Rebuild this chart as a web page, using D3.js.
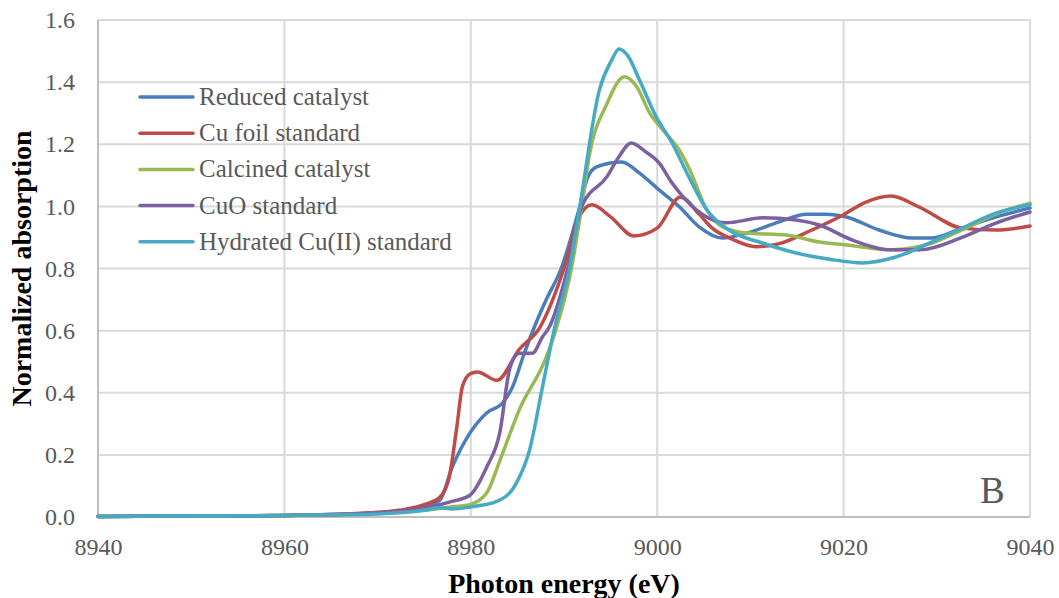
<!DOCTYPE html>
<html>
<head>
<meta charset="utf-8">
<script src="https://cdn.jsdelivr.net/npm/d3@7"></script>
<style>
  html, body { margin: 0; padding: 0; background: #fff; }
  svg { display: block; }
</style>
</head>
<body>
<svg id="chart" width="1059" height="598"></svg>
<script>
// ---- data ----
const seriesNames = ["Reduced catalyst", "Cu foil standard", "Calcined catalyst", "CuO standard", "Hydrated Cu(II) standard"];
const seriesColors = ["#4A7EBB", "#BE4B48", "#98B954", "#7D60A0", "#46AAC5"];

const xTicks = [8940, 8960, 8980, 9000, 9020, 9040];
const yTicks = [0, 0.2, 0.4, 0.6, 0.8, 1.0, 1.2, 1.4, 1.6];

const reducedE = [8940, 8950, 8960, 8965, 8970, 8973, 8975, 8976.7, 8978.0, 8979.9, 8981.7, 8983.4, 8984.5, 8985.6, 8986.8, 8988.1, 8989.7, 8991.7, 8992.5, 8993.5, 8996.2, 8998.1, 9000.2, 9002.4, 9004.5, 9007.0, 9009.6, 9013.1, 9016.0, 9018.1, 9020.3, 9023.8, 9027.4, 9029.5, 9032.7, 9036.4, 9040];
const reducedA = [0.002, 0.003, 0.005, 0.008, 0.014, 0.02, 0.03, 0.055, 0.16, 0.27, 0.335, 0.367, 0.42, 0.515, 0.61, 0.70, 0.80, 1.0, 1.09, 1.127, 1.143, 1.107, 1.053, 0.998, 0.934, 0.898, 0.914, 0.95, 0.975, 0.975, 0.966, 0.924, 0.898, 0.898, 0.93, 0.966, 0.995];

const cuFoilE = [8940, 8950, 8960, 8965, 8970, 8973, 8975, 8976.7, 8977.7, 8978.5, 8979.1, 8979.9, 8980.7, 8982.8, 8985.2, 8987.4, 8990.0, 8991.7, 8993.0, 8995.0, 8997.5, 9000.0, 9002.5, 9004.5, 9005.9, 9008.0, 9010.6, 9013.1, 9016.6, 9019.8, 9022.4, 9025.1, 9028.1, 9032.7, 9036.4, 9040];
const cuFoilA = [0.002, 0.003, 0.005, 0.008, 0.015, 0.025, 0.04, 0.064, 0.13, 0.29, 0.42, 0.46, 0.467, 0.44, 0.54, 0.61, 0.80, 0.97, 1.005, 0.966, 0.905, 0.93, 1.03, 0.975, 0.93, 0.895, 0.87, 0.88, 0.924, 0.97, 1.014, 1.033, 0.998, 0.93, 0.924, 0.937];

const calcinedE = [8940, 8950, 8960, 8965, 8970, 8975, 8978, 8979.9, 8981.7, 8983.1, 8985.2, 8988.1, 8989.2, 8990.8, 8991.9, 8992.7, 8994.6, 8996.5, 8997.8, 8999.2, 9000.6, 9002.4, 9003.5, 9005.3, 9007.0, 9009.6, 9013.8, 9017.4, 9020.3, 9025.2, 9029.5, 9032.7, 9036.7, 9040];
const calcinedA = [0.002, 0.003, 0.005, 0.007, 0.012, 0.022, 0.033, 0.04, 0.077, 0.18, 0.345, 0.515, 0.61, 0.80, 1.0, 1.16, 1.33, 1.417, 1.385, 1.30, 1.246, 1.18, 1.117, 0.99, 0.934, 0.914, 0.908, 0.885, 0.876, 0.86, 0.882, 0.924, 0.98, 1.01];

const cuoE = [8940, 8950, 8960, 8965, 8970, 8975, 8977.7, 8979.9, 8981.7, 8983.1, 8984.2, 8985.2, 8986.6, 8987.7, 8988.4, 8990.4, 8991.9, 8994.6, 8995.9, 8997.2, 8998.8, 9000.2, 9001.6, 9003.1, 9005.3, 9007.4, 9011.3, 9014.9, 9017.4, 9020.9, 9025.2, 9028.1, 9032.7, 9036.4, 9040];
const cuoA = [0.002, 0.003, 0.005, 0.008, 0.013, 0.028, 0.048, 0.07, 0.16, 0.27, 0.48, 0.527, 0.527, 0.58, 0.61, 0.80, 1.0, 1.095, 1.16, 1.204, 1.175, 1.14, 1.075, 1.02, 0.966, 0.947, 0.963, 0.956, 0.94, 0.892, 0.86, 0.86, 0.90, 0.947, 0.982];

const hydratedE = [8940, 8950, 8960, 8965, 8970, 8975, 8976.7, 8978, 8979.9, 8982.8, 8984.9, 8986.3, 8987.7, 8989.0, 8990.6, 8991.7, 8993.8, 8995.1, 8995.9, 8996.8, 8998.1, 8999.9, 9001.6, 9003.4, 9005.3, 9007.7, 9011.3, 9014.9, 9018.5, 9022.0, 9025.6, 9029.2, 9032.7, 9036.4, 9040];
const hydratedA = [0.002, 0.003, 0.005, 0.007, 0.01, 0.022, 0.03, 0.026, 0.032, 0.05, 0.11, 0.215, 0.42, 0.61, 0.80, 1.0, 1.375, 1.47, 1.507, 1.487, 1.407, 1.288, 1.204, 1.095, 0.99, 0.924, 0.882, 0.85, 0.83, 0.818, 0.837, 0.882, 0.93, 0.979, 1.005];

const seriesE = [reducedE, cuFoilE, calcinedE, cuoE, hydratedE];
const seriesA = [reducedA, cuFoilA, calcinedA, cuoA, hydratedA];

// ---- layout ----
const svg = d3.select("#chart");
const pL = 98, pR = 1030, pT = 20, pB = 517;
const x = d3.scaleLinear().domain([8940, 9040]).range([pL, pR]);
const y = d3.scaleLinear().domain([0, 1.6]).range([pB, pT]);
const FONT = "'Liberation Serif', 'Times New Roman', serif";

// gridlines
svg.append("g").selectAll("line").data(yTicks.filter(d => d > 0)).join("line")
  .attr("x1", pL).attr("x2", pR)
  .attr("y1", d => y(d)).attr("y2", d => y(d))
  .attr("stroke", "#d9d9d9").attr("stroke-width", 2);
svg.append("g").selectAll("line").data(xTicks.filter(d => d > 8940)).join("line")
  .attr("x1", d => x(d)).attr("x2", d => x(d))
  .attr("y1", pT).attr("y2", pB)
  .attr("stroke", "#d9d9d9").attr("stroke-width", 2);

// axes
const yAxis = svg.append("g").attr("transform", `translate(${pL},0)`)
  .call(d3.axisLeft(y).tickValues(yTicks).tickFormat(d3.format(".1f")).tickSize(0).tickPadding(23));
const xAxis = svg.append("g").attr("transform", `translate(0,${pB})`)
  .call(d3.axisBottom(x).tickValues(xTicks).tickFormat(d3.format("d")).tickSize(0).tickPadding(21));
[yAxis, xAxis].forEach(g => {
  g.select(".domain").remove();
  g.selectAll("text").attr("font-family", FONT).attr("font-size", 24).attr("fill", "#595959");
});
svg.append("line").attr("x1", pL).attr("x2", pL).attr("y1", pT).attr("y2", pB + 1)
  .attr("stroke", "#bfbfbf").attr("stroke-width", 2);
svg.append("line").attr("x1", pL - 1).attr("x2", pR).attr("y1", pB).attr("y2", pB)
  .attr("stroke", "#bfbfbf").attr("stroke-width", 2);

// lines
const line = d3.line().x(d => x(d[0])).y(d => y(d[1])).curve(d3.curveMonotoneX);
seriesNames.forEach((name, i) => {
  const pts = seriesE[i].map((e, k) => [e, seriesA[i][k]]);
  svg.append("path").datum(pts)
    .attr("d", line)
    .attr("fill", "none")
    .attr("stroke", seriesColors[i])
    .attr("stroke-width", 3.5)
    .attr("stroke-linejoin", "round")
    .attr("stroke-linecap", "round");
});

// legend
const legend = svg.append("g");
seriesNames.forEach((name, i) => {
  const cy = 97 + i * 36.2;
  legend.append("line").attr("x1", 140).attr("x2", 193).attr("y1", cy).attr("y2", cy)
    .attr("stroke", seriesColors[i]).attr("stroke-width", 3.5).attr("stroke-linecap", "round");
  legend.append("text").attr("x", 199).attr("y", cy + 8)
    .attr("font-family", FONT).attr("font-size", 25).attr("fill", "#595959").text(name);
});

// panel label
svg.append("text").attr("x", 980).attr("y", 503)
  .attr("font-family", FONT).attr("font-size", 37).attr("fill", "#595959").text("B");

// axis titles
svg.append("text").attr("x", (pL + pR) / 2).attr("y", 593).attr("text-anchor", "middle")
  .attr("font-family", FONT).attr("font-weight", "bold").attr("font-size", 28).attr("fill", "#000")
  .text("Photon energy (eV)");
svg.append("text").attr("transform", `translate(31,${(pT + pB) / 2}) rotate(-90)`)
  .attr("text-anchor", "middle")
  .attr("font-family", FONT).attr("font-weight", "bold").attr("font-size", 28).attr("fill", "#000")
  .text("Normalized absorption");
</script>
</body>
</html>
